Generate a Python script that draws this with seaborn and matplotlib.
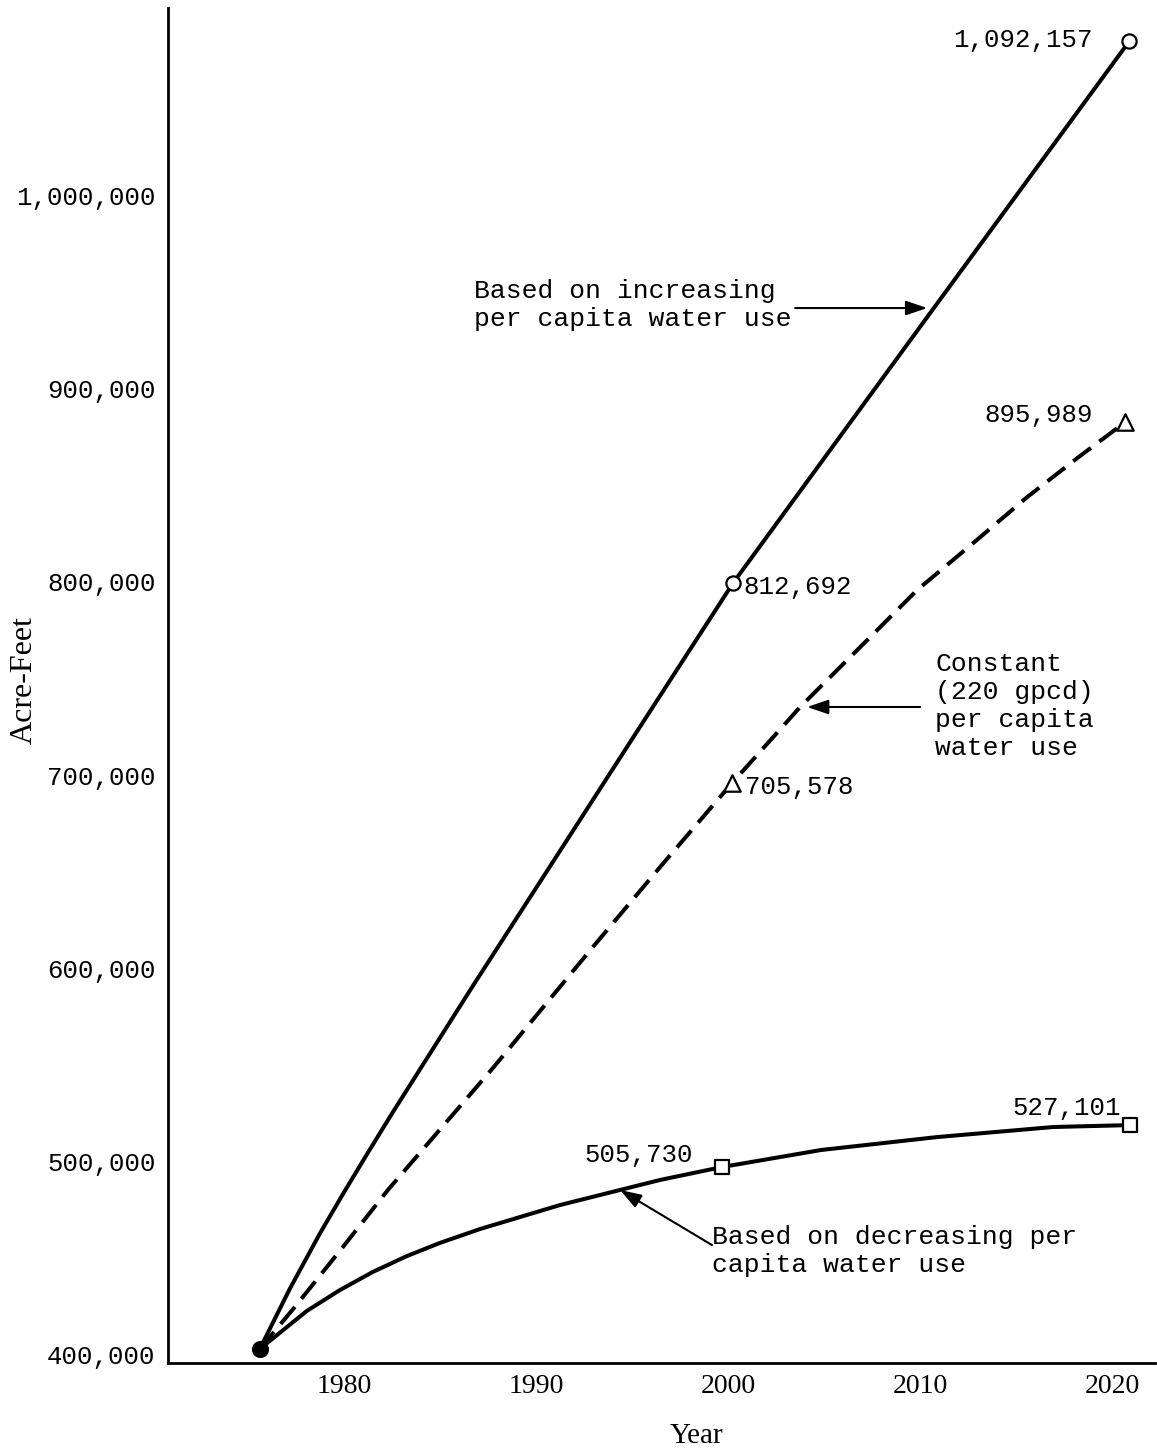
import matplotlib
matplotlib.use("Agg")
import matplotlib.pyplot as plt
import matplotlib.transforms as mtransforms
import seaborn as sns

# values (year, acre-feet)
start_year = [1975.58]
start_af = [405800]

inc_years = [1975.58, 1977.14, 1978.71, 1979.91, 1981.21, 1982.51, 1986.68, 1991.11, 1995.54, 2000.23, 2010.49, 2020.87]
inc_af = [405800, 436900, 465600, 486000, 507400, 528400, 593800, 662000, 730300, 802300, 942000, 1082800]

const_years = [1975.58, 1977.40, 1979.91, 1982.25, 1987.72, 1992.93, 1996.43, 2000.18, 2003.72,
               2007.37, 2009.82, 2012.74, 2015.55, 2018.16, 2020.66]
const_af = [405800, 427500, 458600, 488100, 551200, 613900, 655300, 698800, 738100,
            774300, 798700, 823000, 846800, 867000, 885600]

dec_years = [1975.58, 1978.03, 1979.75, 1981.47, 1983.24, 1984.96, 1987.05, 1991.21, 1994.34,
             1996.43, 1999.66, 2004.81, 2010.86, 2016.90, 2020.92]
dec_af = [405800, 425500, 436300, 445700, 453900, 460700, 467900, 480300, 488100,
          493300, 500000, 508800, 515500, 520700, 521700]

inc_mark_years = [2000.23, 2020.87]
inc_mark_af = [802300, 1082800]
const_mark_years = [2000.18, 2020.66]
const_mark_af = [698800, 885600]
dec_mark_years = [1999.66, 2020.92]
dec_mark_af = [500000, 521700]

x_ticks = [1980, 1990, 2000, 2010, 2020]
y_ticks = [400000, 500000, 600000, 700000, 800000, 900000, 1000000]
y_tick_labels = ["400,000", "500,000", "600,000", "700,000", "800,000", "900,000", "1,000,000"]

MONO = "Liberation Mono"
SERIF = "Liberation Serif"

sns.set_style("white")
plt.rcParams["font.family"] = [MONO, "DejaVu Sans"]
plt.rcParams["text.color"] = "black"
plt.rcParams["axes.labelcolor"] = "black"

fig = plt.figure(figsize=(11.57, 14.48), dpi=100)
ax = fig.add_axes([168 / 1157, 85 / 1448, 987 / 1157, 1355 / 1448])

lw = 2.9
sns.lineplot(x=inc_years, y=inc_af, ax=ax, color="black", lw=lw, estimator=None, sort=False)
sns.lineplot(x=const_years, y=const_af, ax=ax, color="black", lw=lw, estimator=None, sort=False)
ax.lines[-1].set_linestyle((0, (5.5, 2.6)))
sns.lineplot(x=dec_years, y=dec_af, ax=ax, color="black", lw=lw, estimator=None, sort=False)
for ln in ax.lines:
    ln.set_solid_joinstyle("round")
    ln.set_dash_joinstyle("round")

# markers
sns.scatterplot(x=inc_mark_years, y=inc_mark_af, ax=ax, marker="o", s=105,
                facecolor="white", edgecolor="black", linewidth=1.6, zorder=5)
sns.scatterplot(x=const_mark_years, y=const_mark_af, ax=ax, marker="^", s=140,
                facecolor="white", edgecolor="black", linewidth=1.6, zorder=5)
sns.scatterplot(x=dec_mark_years, y=dec_mark_af, ax=ax, marker="s", s=105,
                facecolor="white", edgecolor="black", linewidth=1.6, zorder=5)
sns.scatterplot(x=start_year, y=start_af, ax=ax, marker="o", s=130,
                color="black", edgecolor="black", zorder=6)

ax.set_xlim(1970.8, 2022.2)
ax.set_ylim(398550, 1099900)

# axes look
sns.despine(ax=ax)
for side in ["left", "bottom"]:
    ax.spines[side].set_linewidth(2.0)
    ax.spines[side].set_color("black")

ax.set_xticks(x_ticks)
ax.set_xticklabels([str(t) for t in x_ticks], fontfamily=SERIF, fontsize=20)
ax.set_yticks(y_ticks)
ax.set_yticklabels(y_tick_labels, fontsize=18.5)
ax.tick_params(axis="y", direction="in", length=9, width=1.8, pad=9, colors="black")
ax.tick_params(axis="x", direction="in", length=7, width=1.8, pad=8, colors="black")
up = mtransforms.ScaledTranslation(0, 4 / 72, fig.dpi_scale_trans)
for lab in ax.get_yticklabels():
    lab.set_transform(lab.get_transform() + up)

ax.set_xlabel("Year", fontfamily=SERIF, fontsize=21, color="black")
ax.xaxis.set_label_coords(0.535, -0.044)
ax.set_ylabel("Acre-Feet", fontfamily=SERIF, fontsize=23, va="center", color="black")
ax.yaxis.set_label_coords(-0.146, 0.504)

# point values
val_kw = dict(fontsize=18.5, va="center", color="black")
ax.text(2018.94, 1083300, "1,092,157", ha="right", **val_kw)
ax.text(2018.94, 889200, "895,989", ha="right", **val_kw)
ax.text(2000.75, 800000, "812,692", ha="left", **val_kw)
ax.text(2000.85, 696700, "705,578", ha="left", **val_kw)
ax.text(1998.15, 506200, "505,730", ha="right", **val_kw)
ax.text(2020.45, 530500, "527,101", ha="right", **val_kw)

# curve notes with arrows
note_kw = dict(fontsize=19, va="center", ha="left", color="black", linespacing=1.2)
arrow = dict(arrowstyle="-|>,head_length=0.65,head_width=0.22", color="black",
             lw=1.5, shrinkA=0, shrinkB=0, mutation_scale=20)

ax.text(1986.74, 946200, "Based on increasing\nper capita water use", **note_kw)
ax.annotate("", xy=(2010.34, 944600), xytext=(2003.46, 944600), arrowprops=arrow)

ax.text(2010.76, 738600, "Constant\n(220 gpcd)\nper capita\nwater use", **note_kw)
ax.annotate("", xy=(2004.08, 738100), xytext=(2009.97, 738100), arrowprops=arrow)

ax.text(1999.13, 456500, "Based on decreasing per\ncapita water use", **note_kw)
ax.annotate("", xy=(1994.34, 488100), xytext=(1999.13, 459600), arrowprops=arrow)

fig.savefig("out.png", dpi=100)
